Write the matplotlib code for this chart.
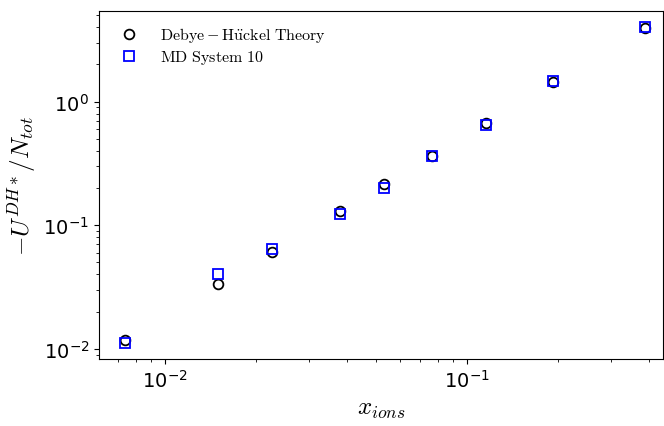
import numpy as np
import matplotlib
matplotlib.use('Agg')
import matplotlib.pyplot as plt

params = {
    'mathtext.fontset': 'cm',
    'xtick.labelsize': 14,
    'ytick.labelsize': 14,
}
plt.rcParams.update(params)

x_ions = [0.00738, 0.0150, 0.0226, 0.0380, 0.0531, 0.0765, 0.1155, 0.193, 0.388]
u_theory = [0.0118, 0.0334, 0.0606, 0.130, 0.214, 0.360, 0.665, 1.45, 3.95]
u_md = [0.0112, 0.0400, 0.0640, 0.123, 0.199, 0.365, 0.645, 1.47, 4.00]

fig = plt.figure(figsize=(6.64, 4.27), dpi=100)
ax = fig.add_axes([0.149, 0.157, 0.850, 0.815])

ax.plot(x_ions, u_theory, 'o', markerfacecolor='none', markeredgecolor='k',
        markersize=7, markeredgewidth=1.3,
        label=r'$\mathrm{Debye-H\ddot{u}ckel\ Theory}$')
ax.plot(x_ions, u_md, 's', markerfacecolor='none', markeredgecolor='b',
        markersize=7.5, markeredgewidth=1.3,
        label=r'$\mathrm{MD\ System\ 10}$')

ax.set_xscale('log')
ax.set_yscale('log')
ax.set_xlim(0.00605, 0.446)
ax.set_ylim(0.0083, 5.4)

ax.set_xlabel(r'$x_{ions}$', fontsize=18)
ax.set_ylabel(r'$-U^{DH*}/N_{tot}$', fontsize=18)

ax.legend(loc='upper left', frameon=False, fontsize=11.5, handletextpad=0.9,
          labelspacing=0.25, borderaxespad=0.5)

plt.savefig('out.png', dpi=100)
